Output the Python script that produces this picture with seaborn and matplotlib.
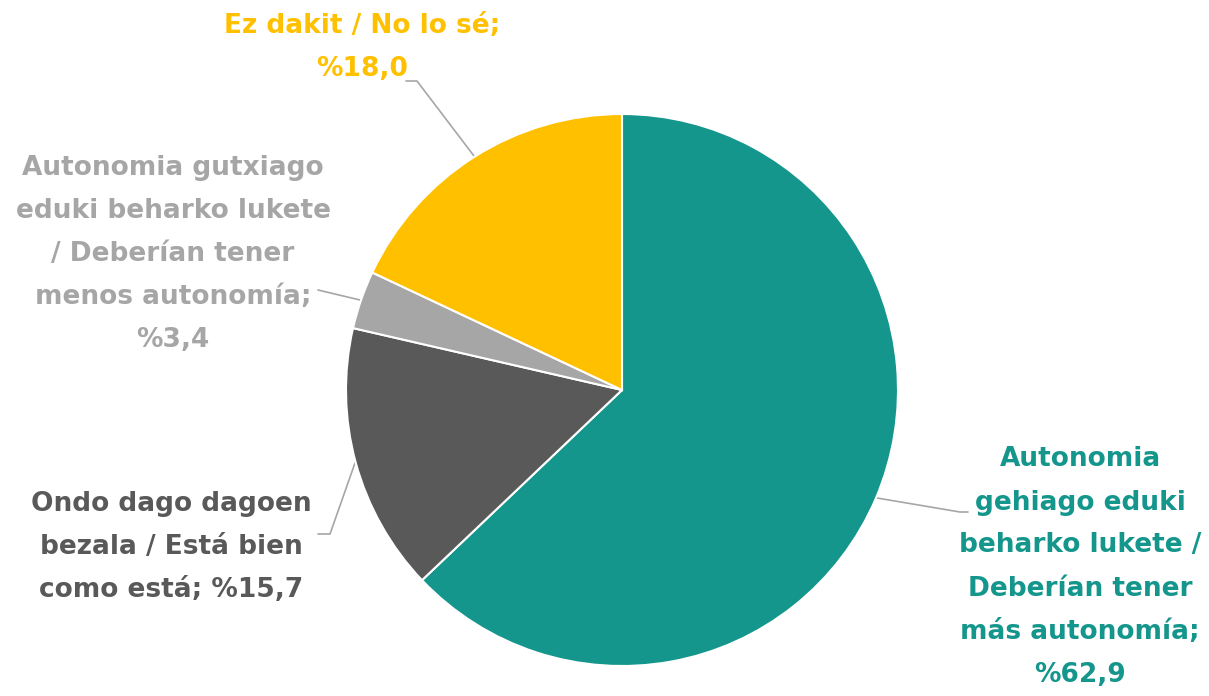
import matplotlib
matplotlib.use("Agg")
import matplotlib.pyplot as plt
import seaborn as sns

sns.set_theme(style="white")
plt.rcParams['font.family'] = ['DejaVu Sans']

# data (clockwise from 12 o'clock)
labels = [
    "Autonomia\ngehiago eduki\nbeharko lukete /\nDeberían tener\nmás autonomía;\n%62,9",
    "Ondo dago dagoen\nbezala / Está bien\ncomo está; %15,7",
    "Autonomia gutxiago\neduki beharko lukete\n/ Deberían tener\nmenos autonomía;\n%3,4",
    "Ez dakit / No lo sé;\n%18,0",
]
values = [62.9, 15.7, 3.4, 18.0]
colors = ["#15968C", "#595959", "#A6A6A6", "#FFC000"]

# label anchors (pixel space, y from top) and leader lines
label_pos = [(1080, 567), (171, 547), (173, 254), (362, 48)]
leaders = [
    [(877, 498), (960, 512), (968, 512)],
    [(355, 463), (330, 534), (318, 534)],
    [(360, 300), (318, 290)],
    [(474, 156), (417, 81), (406, 81)],
]

W, H = 1209, 696
fig = plt.figure(figsize=(W / 100, H / 100), dpi=100)
ax = fig.add_axes([0, 0, 1, 1])

cx, cy, r = 622, H - 390, 276
ax.pie(values, colors=colors, startangle=90, counterclock=False,
       center=(cx, cy), radius=r, frame=True,
       wedgeprops=dict(edgecolor='white', linewidth=1.5))
ax.set_xlim(0, W)
ax.set_ylim(0, H)
ax.axis('off')

for pts in leaders:
    xs = [p[0] for p in pts]
    ys = [H - p[1] for p in pts]
    ax.plot(xs, ys, color='#A6A6A6', lw=1.2, zorder=0)

for text, (x, y), c in zip(labels, label_pos, colors):
    ax.text(x, H - y, text, color=c, fontsize=19, fontweight='bold',
            ha='center', va='center', linespacing=1.85)

fig.savefig("out.png", dpi=100)
